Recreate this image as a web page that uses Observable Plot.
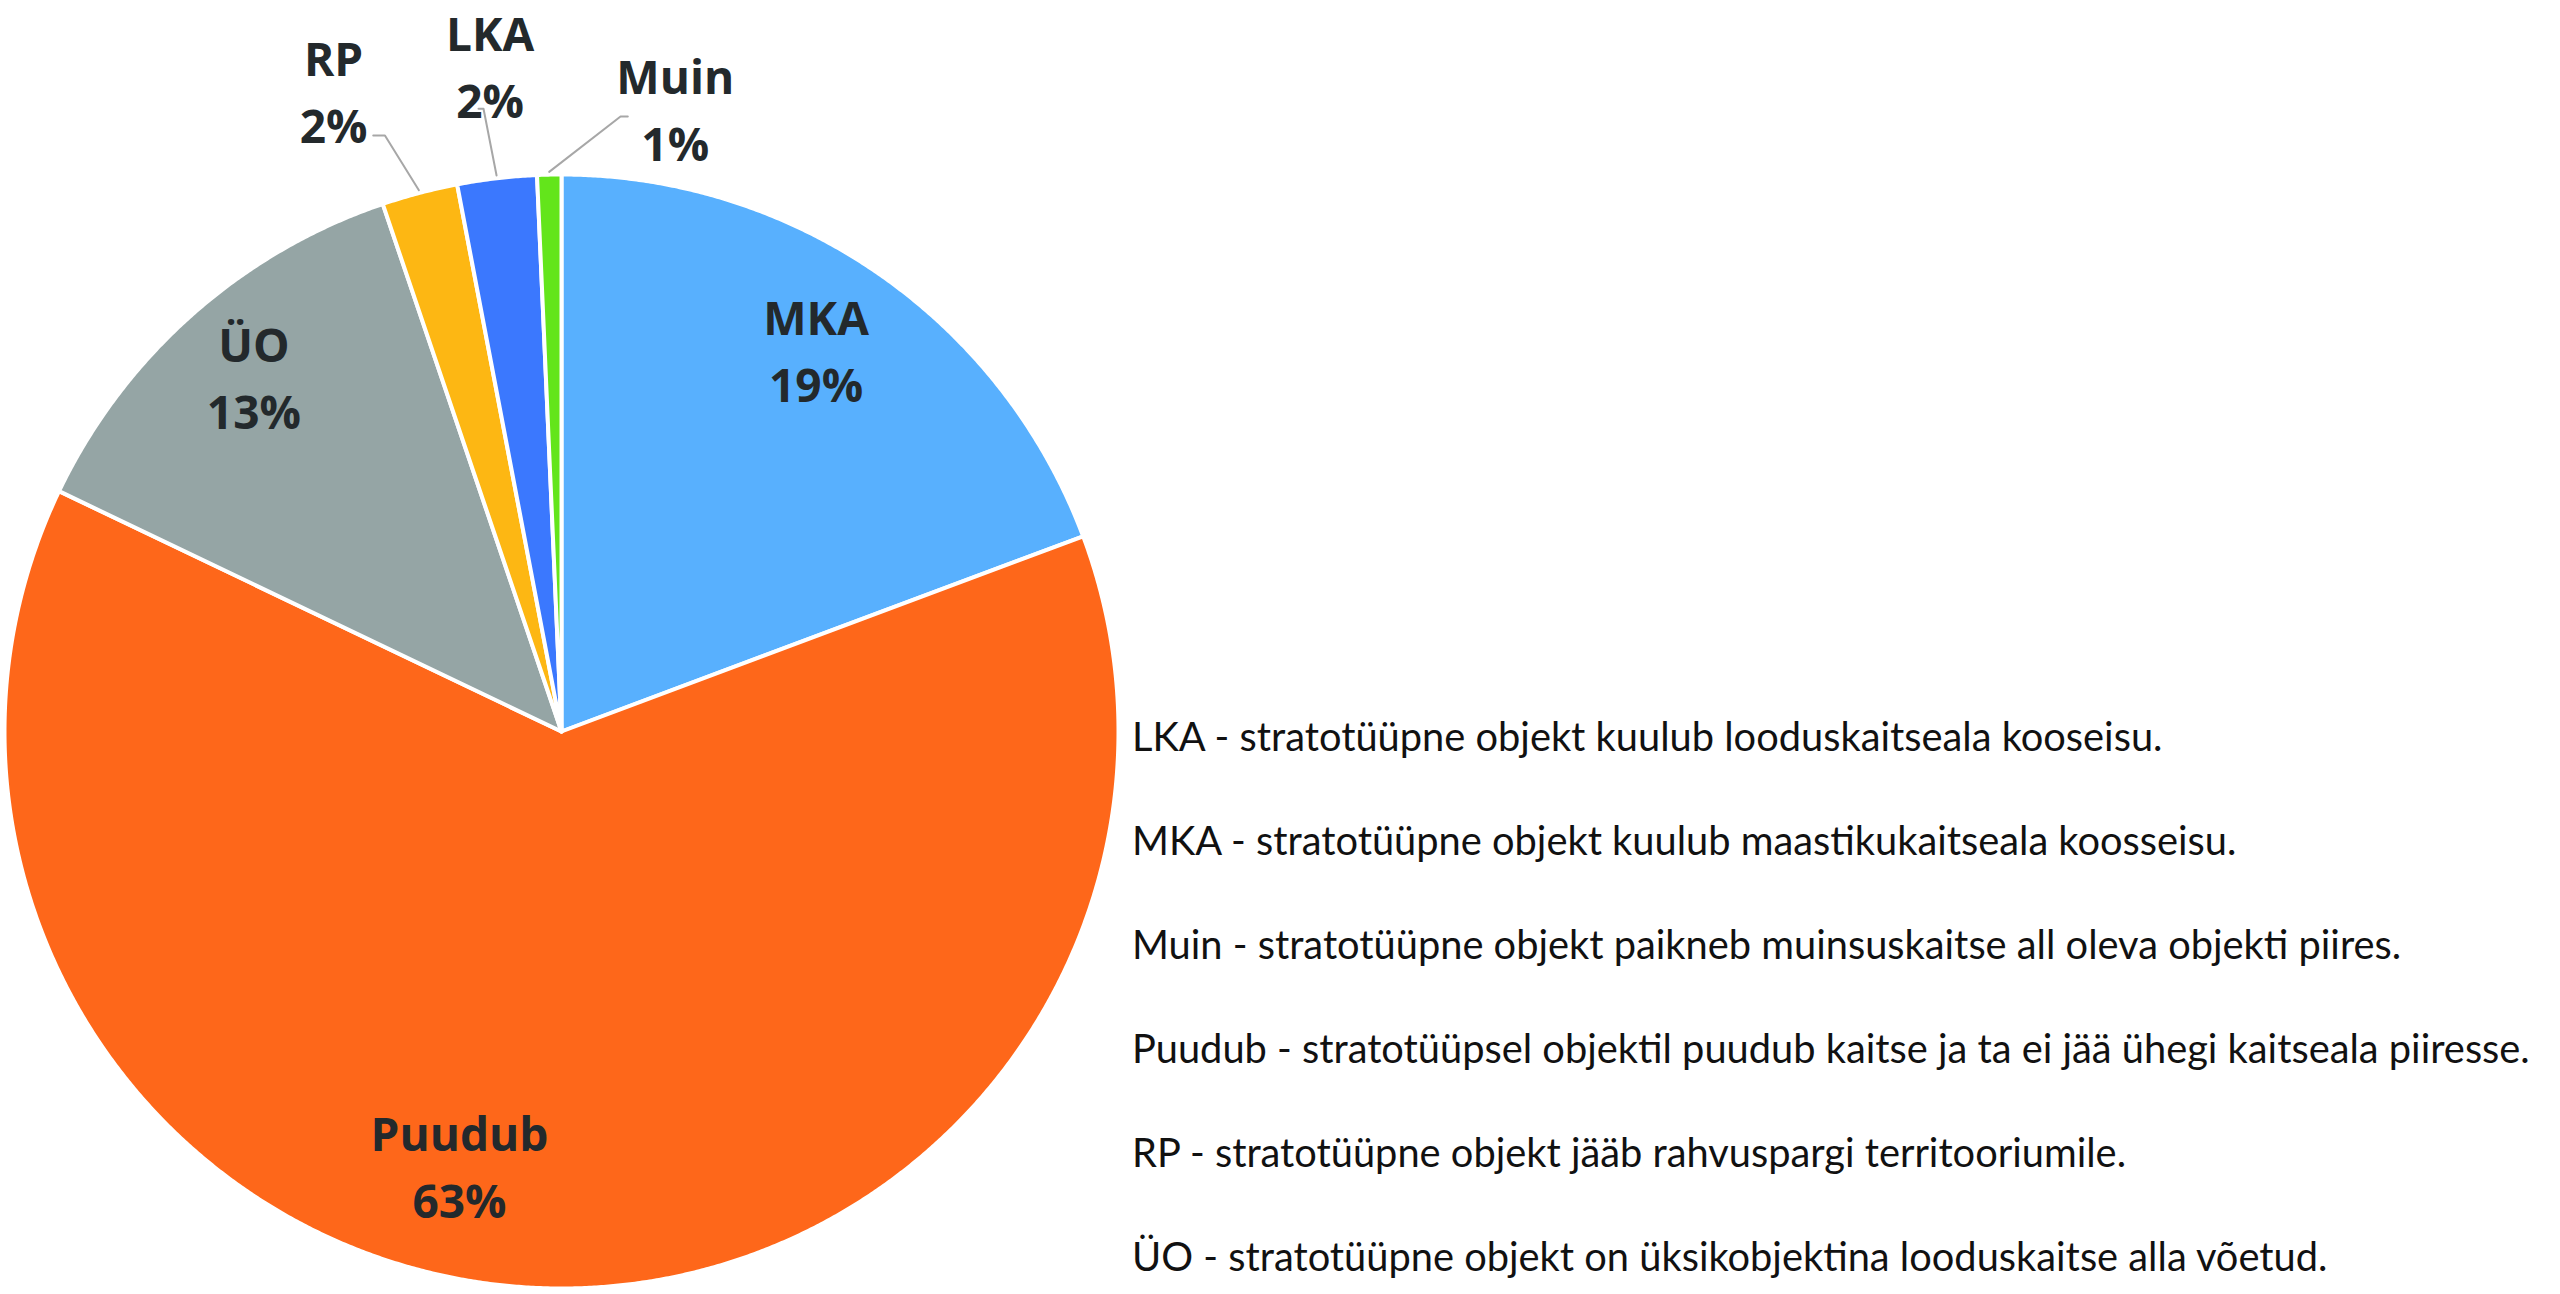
<!DOCTYPE html>
<html>
<head>
<meta charset="utf-8">
<script src="https://cdn.jsdelivr.net/npm/d3@7"></script>
<script src="https://cdn.jsdelivr.net/npm/@observablehq/plot@0.6"></script>
<style>
  html, body { margin: 0; padding: 0; background: #fff; overflow: hidden; }
  #wrap { position: relative; width: 2560px; height: 1294px; }
  #legend { position: absolute; left: 1132px; top: 684px; font-family: Lato, "Open Sans", sans-serif; font-size: 39.8px; line-height: 104px; color: #111; white-space: nowrap; }
</style>
</head>
<body>
<div id="wrap"><div id="chart"></div><div id="legend"></div></div>
<script>
// ---- data ----
const categories = ["MKA", "Puudub", "ÜO", "RP", "LKA", "Muin"];
const shares = [19.3, 62.8, 12.7, 2.2, 2.3, 0.7];
const pctLabels = ["19%", "63%", "13%", "2%", "2%", "1%"];
const legendLines = [
  "LKA - stratotüüpne objekt kuulub looduskaitseala kooseisu.",
  "MKA - stratotüüpne objekt kuulub maastikukaitseala koosseisu.",
  "Muin - stratotüüpne objekt paikneb muinsuskaitse all oleva objekti piires.",
  "Puudub - stratotüüpsel objektil puudub kaitse ja ta ei jää ühegi kaitseala piiresse.",
  "RP - stratotüüpne objekt jääb rahvuspargi territooriumile.",
  "ÜO - stratotüüpne objekt on üksikobjektina looduskaitse alla võetud."
];

// ---- styling / layout ----
const palette = ["#58b0fe", "#fe671a", "#95a5a5", "#fdb713", "#3b78fe", "#63e51b"];
const cx = 561, cy = 731, R = 557;
// label placement in pie units (radius = 1): [angle from 12 o'clock in degrees, radius]
const labelPlacement = {
  "MKA": [33.5, 0.828], "Puudub": [193.3, 0.796], "ÜO": [319.3, 0.847],
  "RP": [340.5, 1.226], "LKA": [353.9, 1.207], "Muin": [10.3, 1.142]
};
// leader line label-side points in pie units
const leaderEnds = {
  "RP": [[-0.338, 1.070], [-0.317, 1.070]],
  "LKA": [[-0.149, 1.118], [-0.140, 1.118]],
  "Muin": [[0.119, 1.104], [0.106, 1.104]]
};

const arcs = d3.pie().sort(null).value(d => d.share)(categories.map((c, i) => ({cat: c, share: shares[i], pct: pctLabels[i]})));

const poly = [];
for (const a of arcs) {
  const cat = a.data.cat;
  poly.push({cat, x: 0, y: 0});
  const step = Math.PI / 720;
  const n = Math.max(2, Math.ceil((a.endAngle - a.startAngle) / step));
  for (let k = 0; k <= n; k++) {
    const t = a.startAngle + (a.endAngle - a.startAngle) * k / n;
    poly.push({cat, x: Math.sin(t), y: Math.cos(t)});
  }
  poly.push({cat, x: 0, y: 0});
}

const leaders = [];
for (const a of arcs) {
  const cat = a.data.cat;
  if (!leaderEnds[cat]) continue;
  for (const [x, y] of leaderEnds[cat]) leaders.push({cat, x, y});
  const m = (a.startAngle + a.endAngle) / 2;
  leaders.push({cat, x: Math.sin(m) * 1.005, y: Math.cos(m) * 1.005});
}

const labels = arcs.map(a => {
  const [deg, r] = labelPlacement[a.data.cat];
  const t = deg * Math.PI / 180;
  return {cat: a.data.cat, text: a.data.cat + "\n" + a.data.pct, x: Math.sin(t) * r, y: Math.cos(t) * r};
});

const chart = Plot.plot({
  width: 2560,
  height: 1294,
  margin: 0,
  style: {background: "white"},
  x: {domain: [-1, 1], range: [cx - R, cx + R], axis: null},
  y: {domain: [-1, 1], range: [cy + R, cy - R], axis: null},
  color: {domain: categories, range: palette},
  marks: [
    Plot.line(poly, {x: "x", y: "y", z: "cat", fill: "cat", stroke: "white", strokeWidth: 4, strokeLinejoin: "round", curve: "linear"}),
    Plot.line(leaders, {x: "x", y: "y", z: "cat", stroke: "#a7a7a7", strokeWidth: 2}),
    Plot.text(labels, {x: "x", y: "y", text: "text", fontSize: 46, fontWeight: 700, fontFamily: "Open Sans", fill: "#23292c", lineHeight: 1.46})
  ]
});
document.getElementById("chart").appendChild(chart);

const legend = document.getElementById("legend");
for (const line of legendLines) {
  const div = document.createElement("div");
  div.textContent = line;
  legend.appendChild(div);
}
</script>
</body>
</html>
